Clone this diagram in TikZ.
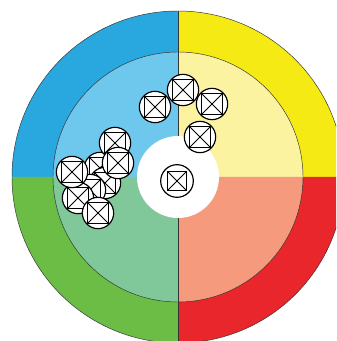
\documentclass[tikz,border=0pt]{standalone}
\definecolor{qblue}{RGB}{41, 168, 224}
\definecolor{qblueL}{RGB}{110, 200, 238}
\definecolor{qyellow}{RGB}{245, 234, 20}
\definecolor{qyellowL}{RGB}{252, 243, 160}
\definecolor{qred}{RGB}{232, 38, 43}
\definecolor{qredL}{RGB}{245, 154, 124}
\definecolor{qgreen}{RGB}{107, 189, 69}
\definecolor{qgreenL}{RGB}{128, 200, 154}
\usepackage{tikz}
\usetikzlibrary{calc}

\begin{document}
\begin{tikzpicture}[
  x=0.03cm, y=0.03cm,
  ring/.style={draw=black!80, line width=0.4pt},
  cell/.style={circle, draw, fill=white, line width=1pt, inner sep=0pt, minimum size=0.94cm,
    path picture={
      \draw[line width=0.8pt] ([shift={(-0.31cm,-0.31cm)}]path picture bounding box.center) rectangle ([shift={(0.31cm,0.31cm)}]path picture bounding box.center);
      \draw[line width=0.8pt] ([shift={(-0.31cm,-0.31cm)}]path picture bounding box.center) -- ([shift={(0.31cm,0.31cm)}]path picture bounding box.center);
      \draw[line width=0.8pt] ([shift={(-0.31cm,0.31cm)}]path picture bounding box.center) -- ([shift={(0.31cm,-0.31cm)}]path picture bounding box.center);
    }},
  core/.style={circle, draw, fill=white, line width=1pt, inner sep=0pt, minimum size=0.98cm,
    path picture={
      \draw[line width=0.8pt] ([shift={(-0.28cm,-0.28cm)}]path picture bounding box.center) rectangle ([shift={(0.28cm,0.28cm)}]path picture bounding box.center);
      \draw[line width=0.8pt] ([shift={(-0.28cm,-0.28cm)}]path picture bounding box.center) -- ([shift={(0.28cm,0.28cm)}]path picture bounding box.center);
      \draw[line width=0.8pt] ([shift={(-0.28cm,0.28cm)}]path picture bounding box.center) -- ([shift={(0.28cm,-0.28cm)}]path picture bounding box.center);
    }}
]
  \useasboundingbox (0,0) rectangle (336,341);
  \fill[white] (0,0) rectangle (336,341);
  \begin{scope}
    \clip (0,0) rectangle (336,341);
    \coordinate (c) at (178,164);
    % outer quadrants
    \fill[qyellow] (c) -- ++(0:166) arc (0:90:166) -- cycle;
    \fill[qblue] (c) -- ++(90:166) arc (90:180:166) -- cycle;
    \fill[qgreen] (c) -- ++(180:166) arc (180:270:166) -- cycle;
    \fill[qred] (c) -- ++(270:166) arc (270:360:166) -- cycle;
    % inner quadrants
    \fill[qyellowL] (c) -- ++(0:125) arc (0:90:125) -- cycle;
    \fill[qblueL] (c) -- ++(90:125) arc (90:180:125) -- cycle;
    \fill[qgreenL] (c) -- ++(180:125) arc (180:270:125) -- cycle;
    \fill[qredL] (c) -- ++(270:125) arc (270:360:125) -- cycle;
    \draw[ring] (c) circle (166);
    \draw[ring] (c) circle (125);
    \coordinate (top) at ($(c)+(0,166)$);
    \coordinate (bot) at ($(c)+(0,-166)$);
    \draw[ring] (top) -- (bot);
    \fill[white] (c) circle (41);
  \end{scope}

  % nucleus
  \node[core] (n0) at (177,160) {};
  % upper group
  \node[cell] (a1) at (155,234) {};
  \node[cell] (a2) at (183,251) {};
  \node[cell] (a3) at (212,237) {};
  \node[cell] (a4) at (200,204) {};
  % left cluster
  \node[cell] (b1) at (100,173) {};
  \node[cell] (b2) at (105,158) {};
  \node[cell] (b3) at (90,151) {};
  \node[cell] (b4) at (78,143) {};
  \node[cell] (b5) at (72,169) {};
  \node[cell] (b6) at (115,198) {};
  \node[cell] (b7) at (118,178) {};
  \node[cell] (b8) at (98,128) {};
\end{tikzpicture}
\end{document}
